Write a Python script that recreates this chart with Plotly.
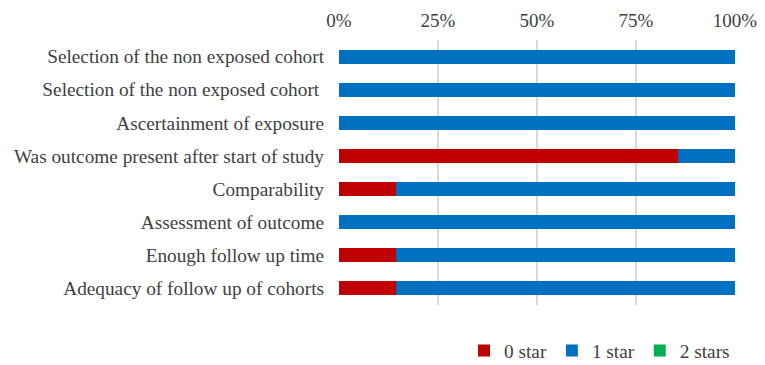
import plotly.graph_objects as go

categories = [
    "Selection of the non exposed cohort",
    "Selection of the non exposed cohort ",
    "Ascertainment of exposure",
    "Was outcome present after start of study",
    "Comparability",
    "Assessment of outcome",
    "Enough follow up time",
    "Adequacy of follow up of cohorts",
]
zero_star = [0, 0, 0, 85.7, 14.3, 0, 14.3, 14.3]
one_star = [100, 100, 100, 14.3, 85.7, 100, 85.7, 85.7]
two_stars = [0, 0, 0, 0, 0, 0, 0, 0]
tick_vals = [0, 25, 50, 75, 100]
tick_text = ["0%", "25%", "50%", "75%", "100%"]

series = [("0 star", zero_star, "#C00000"), ("1 star", one_star, "#0070C0"), ("2 stars", two_stars, "#00B050")]

fig = go.Figure()
for name, vals, col in series:
    fig.add_trace(go.Bar(y=categories, x=vals, name=name, orientation="h",
                         marker=dict(color=col, line=dict(width=0))))

fam = "Liberation Serif, Times New Roman, serif"
font = dict(family=fam, size=19.3, color="#404040")
fig.update_layout(
    barmode="stack", bargap=0.58,
    width=757, height=357,
    margin=dict(l=331, r=30, t=32, b=60, autoexpand=False),
    paper_bgcolor="white", plot_bgcolor="white",
    font=font,
    showlegend=True,
    legend=dict(orientation="h", x=1.0, xanchor="right", y=-0.1, yanchor="top",
                font=dict(family=fam, size=19.3, color="#404040"), traceorder="normal",
                itemwidth=30, tracegroupgap=0),
    xaxis=dict(side="top", range=[0, 100], tickvals=tick_vals, ticktext=tick_text,
               showgrid=True, gridcolor="#D9D9D9", gridwidth=1.5, zeroline=False,
               ticks="", showline=False, fixedrange=True, ticklabelstandoff=8,
               tickfont=dict(family=fam, size=19, color="#404040"),
               automargin=False),
    yaxis=dict(autorange="reversed", showgrid=False, ticks="", showline=False,
               ticklabelstandoff=14, fixedrange=True, automargin=False),
)
fig.write_html("out.html")
